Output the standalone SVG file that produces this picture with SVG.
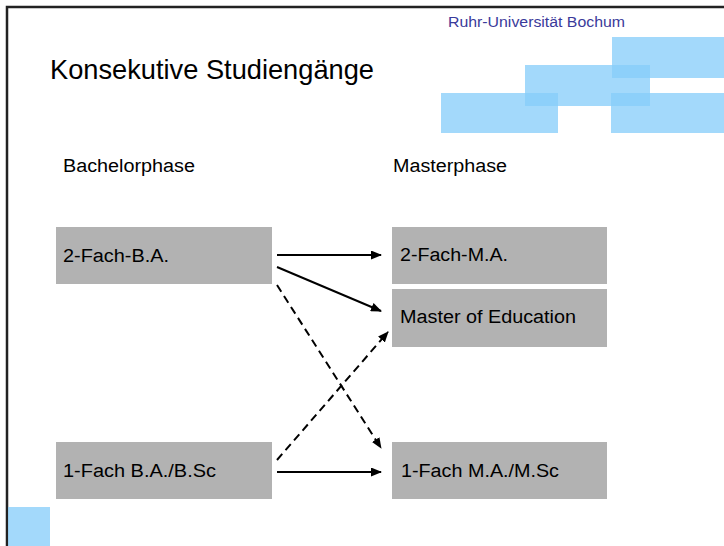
<svg xmlns="http://www.w3.org/2000/svg" width="724" height="546" viewBox="0 0 724 546">
<defs>
<style>
.box{fill:#b2b2b2;}
.lbl{font-family:"Liberation Sans",Arial,sans-serif;font-size:18px;fill:#000;}
.hdr{font-family:"Liberation Sans",Arial,sans-serif;font-size:18px;fill:#000;}
.blue{fill:#86cdfa;fill-opacity:0.76;}
.conn{stroke:#000;stroke-width:2;fill:none;marker-end:url(#ah);}
.dash{stroke-dasharray:8 5;}
</style>
<marker id="ah" markerUnits="userSpaceOnUse" markerWidth="11" markerHeight="9" refX="10" refY="4.5" orient="auto">
<path d="M0,0 L11,4.5 L0,9 z" fill="#000"/>
</marker>
</defs>
<rect width="724" height="546" fill="#fff"/>
<g id="frame">
<path d="M7,546 L7,7 L724,7" stroke="#222" stroke-width="2.5" fill="none"/>
</g>
<g id="logo">
<rect class="blue" x="612" y="37" width="112" height="41"/>
<rect class="blue" x="525" y="65" width="125" height="41"/>
<rect class="blue" x="441" y="93" width="117" height="40"/>
<rect class="blue" x="611" y="93" width="113" height="40"/>
<rect class="blue" x="8" y="507" width="42" height="39"/>
<text x="448" y="27" font-family="'Liberation Sans',Arial,sans-serif" font-size="15.5" fill="#3a3a9a" textLength="177" lengthAdjust="spacingAndGlyphs">Ruhr-Universität Bochum</text>
</g>
<g id="title">
<text x="50" y="79" font-family="'Liberation Sans',Arial,sans-serif" font-size="28" fill="#000" textLength="324" lengthAdjust="spacingAndGlyphs">Konsekutive Studiengänge</text>
</g>
<g id="headers">
<text class="hdr" x="63" y="172" textLength="132" lengthAdjust="spacingAndGlyphs">Bachelorphase</text>
<text class="hdr" x="393" y="172" textLength="114" lengthAdjust="spacingAndGlyphs">Masterphase</text>
</g>
<g id="ba2">
<rect class="box" x="56" y="227" width="216" height="57"/>
<text class="lbl" x="63" y="262" textLength="106" lengthAdjust="spacingAndGlyphs">2-Fach-B.A.</text>
</g>
<g id="ba1">
<rect class="box" x="56" y="442" width="216" height="57"/>
<text class="lbl" x="63" y="477" textLength="153" lengthAdjust="spacingAndGlyphs">1-Fach B.A./B.Sc</text>
</g>
<g id="ma2">
<rect class="box" x="392" y="227" width="215" height="57"/>
<text class="lbl" x="400" y="261" textLength="108" lengthAdjust="spacingAndGlyphs">2-Fach-M.A.</text>
</g>
<g id="med">
<rect class="box" x="392" y="289" width="215" height="58"/>
<text class="lbl" x="400" y="323" textLength="176" lengthAdjust="spacingAndGlyphs">Master of Education</text>
</g>
<g id="ma1">
<rect class="box" x="392" y="442" width="215" height="57"/>
<text class="lbl" x="401" y="477" textLength="158" lengthAdjust="spacingAndGlyphs">1-Fach M.A./M.Sc</text>
</g>
<g id="connectors">
<line class="conn" x1="277" y1="255" x2="381" y2="255"/>
<line class="conn" x1="277" y1="267" x2="381" y2="311"/>
<line class="conn dash" x1="277" y1="285" x2="381" y2="448"/>
<line class="conn dash" x1="277" y1="460" x2="388" y2="332"/>
<line class="conn" x1="277" y1="472" x2="381" y2="472"/>
</g>
</svg>
